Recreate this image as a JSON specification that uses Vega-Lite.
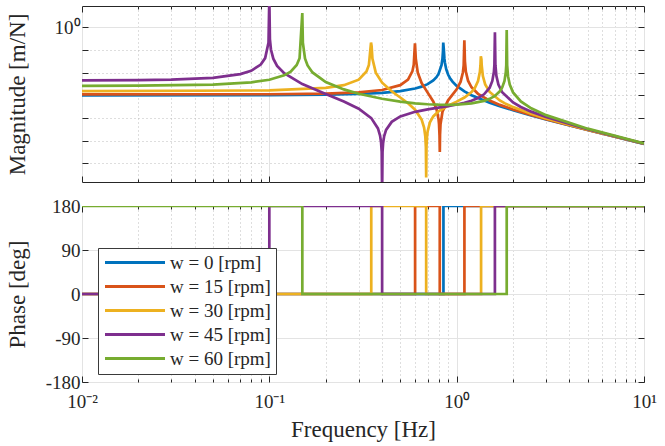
{
  "$schema": "https://vega.github.io/schema/vega-lite/v6.json",
  "padding": {"left": 5, "top": 5, "right": 5, "bottom": 5},
  "background": "white",
  "spacing": 24,
  "bounds": "flush",
  "config": {
    "font": "Liberation Serif, serif",
    "view": {"stroke": "#262626", "strokeWidth": 1},
    "axis": {
      "labelFont": "Liberation Serif, serif", "titleFont": "Liberation Serif, serif",
      "labelFontSize": 19, "titleFontSize": 23, "titleFontWeight": "normal",
      "labelColor": "#262626", "titleColor": "#262626",
      "domainColor": "#262626", "tickColor": "#262626", "gridColor": "#e3e3e3",
      "labelOverlap": false, "labelFlush": false
    },
    "style": {
      "guide-label": {"font": "Liberation Serif, serif"},
      "guide-title": {"font": "Liberation Serif, serif"}
    }
  },
  "resolve": {"legend": {"color": "independent"}},
  "datasets": {
    "mag": [
      {"w": "w = 0 [rpm]", "f": 0.01, "m": 1.002e-3},
      {"w": "w = 0 [rpm]", "f": 0.1, "m": 1.016e-3},
      {"w": "w = 0 [rpm]", "f": 0.2, "m": 1.060e-3},
      {"w": "w = 0 [rpm]", "f": 0.3, "m": 1.144e-3},
      {"w": "w = 0 [rpm]", "f": 0.4, "m": 1.287e-3},
      {"w": "w = 0 [rpm]", "f": 0.5, "m": 1.532e-3},
      {"w": "w = 0 [rpm]", "f": 0.6, "m": 1.996e-3},
      {"w": "w = 0 [rpm]", "f": 0.65, "m": 2.412e-3},
      {"w": "w = 0 [rpm]", "f": 0.7, "m": 3.113e-3},
      {"w": "w = 0 [rpm]", "f": 0.75, "m": 4.523e-3},
      {"w": "w = 0 [rpm]", "f": 0.78, "m": 6.343e-3},
      {"w": "w = 0 [rpm]", "f": 0.8, "m": 8.772e-3},
      {"w": "w = 0 [rpm]", "f": 0.83, "m": 2.154e-2},
      {"w": "w = 0 [rpm]", "f": 0.84, "m": 4.282e-2},
      {"w": "w = 0 [rpm]", "f": 0.845, "m": 8.539e-2},
      {"w": "w = 0 [rpm]", "f": 0.848, "m": 0.2131},
      {"w": "w = 0 [rpm]", "f": 0.854, "m": 0.1062},
      {"w": "w = 0 [rpm]", "f": 0.86, "m": 4.232e-2},
      {"w": "w = 0 [rpm]", "f": 0.865, "m": 2.813e-2},
      {"w": "w = 0 [rpm]", "f": 0.88, "m": 1.394e-2},
      {"w": "w = 0 [rpm]", "f": 0.9, "m": 8.271e-3},
      {"w": "w = 0 [rpm]", "f": 0.92, "m": 5.841e-3},
      {"w": "w = 0 [rpm]", "f": 0.95, "m": 4.021e-3},
      {"w": "w = 0 [rpm]", "f": 1.0, "m": 2.608e-3},
      {"w": "w = 0 [rpm]", "f": 1.1, "m": 1.485e-3},
      {"w": "w = 0 [rpm]", "f": 1.2, "m": 1.009e-3},
      {"w": "w = 0 [rpm]", "f": 1.5, "m": 4.738e-4},
      {"w": "w = 0 [rpm]", "f": 1.7, "m": 3.339e-4},
      {"w": "w = 0 [rpm]", "f": 2.0, "m": 2.208e-4},
      {"w": "w = 0 [rpm]", "f": 2.5, "m": 1.309e-4},
      {"w": "w = 0 [rpm]", "f": 3.0, "m": 8.743e-5},
      {"w": "w = 0 [rpm]", "f": 5.0, "m": 2.981e-5},
      {"w": "w = 0 [rpm]", "f": 10.0, "m": 7.290e-6},

      {"w": "w = 15 [rpm]", "f": 0.01, "m": 1.097e-3},
      {"w": "w = 15 [rpm]", "f": 0.1, "m": 1.120e-3},
      {"w": "w = 15 [rpm]", "f": 0.2, "m": 1.199e-3},
      {"w": "w = 15 [rpm]", "f": 0.3, "m": 1.364e-3},
      {"w": "w = 15 [rpm]", "f": 0.4, "m": 1.723e-3},
      {"w": "w = 15 [rpm]", "f": 0.5, "m": 2.810e-3},
      {"w": "w = 15 [rpm]", "f": 0.55, "m": 4.958e-3},
      {"w": "w = 15 [rpm]", "f": 0.58, "m": 1.136e-2},
      {"w": "w = 15 [rpm]", "f": 0.59, "m": 2.201e-2},
      {"w": "w = 15 [rpm]", "f": 0.5989, "m": 0.1942},
      {"w": "w = 15 [rpm]", "f": 0.603, "m": 7.022e-2},
      {"w": "w = 15 [rpm]", "f": 0.605, "m": 4.184e-2},
      {"w": "w = 15 [rpm]", "f": 0.62, "m": 9.901e-3},
      {"w": "w = 15 [rpm]", "f": 0.65, "m": 3.492e-3},
      {"w": "w = 15 [rpm]", "f": 0.7, "m": 1.314e-3},
      {"w": "w = 15 [rpm]", "f": 0.75, "m": 5.381e-4},
      {"w": "w = 15 [rpm]", "f": 0.78, "m": 2.499e-4},
      {"w": "w = 15 [rpm]", "f": 0.8, "m": 9.069e-5},
      {"w": "w = 15 [rpm]", "f": 0.805, "m": 5.354e-5},
      {"w": "w = 15 [rpm]", "f": 0.81, "m": 1.721e-5},
      {"w": "w = 15 [rpm]", "f": 0.81285, "m": 3.18e-6},
      {"w": "w = 15 [rpm]", "f": 0.815, "m": 1.842e-5},
      {"w": "w = 15 [rpm]", "f": 0.82, "m": 5.343e-5},
      {"w": "w = 15 [rpm]", "f": 0.84, "m": 1.893e-4},
      {"w": "w = 15 [rpm]", "f": 0.9, "m": 6.031e-4},
      {"w": "w = 15 [rpm]", "f": 1.0, "m": 1.831e-3},
      {"w": "w = 15 [rpm]", "f": 1.05, "m": 4.012e-3},
      {"w": "w = 15 [rpm]", "f": 1.08, "m": 1.042e-2},
      {"w": "w = 15 [rpm]", "f": 1.09, "m": 2.107e-2},
      {"w": "w = 15 [rpm]", "f": 1.0992, "m": 0.2659},
      {"w": "w = 15 [rpm]", "f": 1.1068, "m": 3.150e-2},
      {"w": "w = 15 [rpm]", "f": 1.12, "m": 1.083e-2},
      {"w": "w = 15 [rpm]", "f": 1.15, "m": 4.428e-3},
      {"w": "w = 15 [rpm]", "f": 1.2, "m": 2.273e-3},
      {"w": "w = 15 [rpm]", "f": 1.3, "m": 1.168e-3},
      {"w": "w = 15 [rpm]", "f": 1.5, "m": 5.854e-4},
      {"w": "w = 15 [rpm]", "f": 1.7, "m": 3.797e-4},
      {"w": "w = 15 [rpm]", "f": 2.0, "m": 2.380e-4},
      {"w": "w = 15 [rpm]", "f": 2.5, "m": 1.363e-4},
      {"w": "w = 15 [rpm]", "f": 3.0, "m": 8.967e-5},
      {"w": "w = 15 [rpm]", "f": 5.0, "m": 3.005e-5},
      {"w": "w = 15 [rpm]", "f": 10.0, "m": 7.304e-6},

      {"w": "w = 30 [rpm]", "f": 0.01, "m": 1.533e-3},
      {"w": "w = 30 [rpm]", "f": 0.1, "m": 1.642e-3},
      {"w": "w = 30 [rpm]", "f": 0.2, "m": 2.128e-3},
      {"w": "w = 30 [rpm]", "f": 0.25, "m": 2.810e-3},
      {"w": "w = 30 [rpm]", "f": 0.3, "m": 4.916e-3},
      {"w": "w = 30 [rpm]", "f": 0.33, "m": 1.129e-2},
      {"w": "w = 30 [rpm]", "f": 0.34, "m": 2.193e-2},
      {"w": "w = 30 [rpm]", "f": 0.349, "m": 0.2135},
      {"w": "w = 30 [rpm]", "f": 0.3514, "m": 0.1514},
      {"w": "w = 30 [rpm]", "f": 0.355, "m": 4.193e-2},
      {"w": "w = 30 [rpm]", "f": 0.37, "m": 1.001e-2},
      {"w": "w = 30 [rpm]", "f": 0.4, "m": 3.628e-3},
      {"w": "w = 30 [rpm]", "f": 0.45, "m": 1.508e-3},
      {"w": "w = 30 [rpm]", "f": 0.5, "m": 8.032e-4},
      {"w": "w = 30 [rpm]", "f": 0.55, "m": 4.497e-4},
      {"w": "w = 30 [rpm]", "f": 0.6, "m": 2.344e-4},
      {"w": "w = 30 [rpm]", "f": 0.65, "m": 8.616e-5},
      {"w": "w = 30 [rpm]", "f": 0.67, "m": 3.809e-5},
      {"w": "w = 30 [rpm]", "f": 0.68, "m": 1.581e-5},
      {"w": "w = 30 [rpm]", "f": 0.685, "m": 5.051e-6},
      {"w": "w = 30 [rpm]", "f": 0.6875, "m": 2.393e-7},
      {"w": "w = 30 [rpm]", "f": 0.69, "m": 5.472e-6},
      {"w": "w = 30 [rpm]", "f": 0.695, "m": 1.577e-5},
      {"w": "w = 30 [rpm]", "f": 0.7, "m": 2.586e-5},
      {"w": "w = 30 [rpm]", "f": 0.72, "m": 6.434e-5},
      {"w": "w = 30 [rpm]", "f": 0.75, "m": 1.175e-4},
      {"w": "w = 30 [rpm]", "f": 0.8, "m": 1.981e-4},
      {"w": "w = 30 [rpm]", "f": 0.9, "m": 3.509e-4},
      {"w": "w = 30 [rpm]", "f": 1.0, "m": 5.289e-4},
      {"w": "w = 30 [rpm]", "f": 1.1, "m": 8.013e-4},
      {"w": "w = 30 [rpm]", "f": 1.2, "m": 1.389e-3},
      {"w": "w = 30 [rpm]", "f": 1.25, "m": 2.107e-3},
      {"w": "w = 30 [rpm]", "f": 1.3, "m": 4.242e-3},
      {"w": "w = 30 [rpm]", "f": 1.33, "m": 1.063e-2},
      {"w": "w = 30 [rpm]", "f": 1.34, "m": 2.128e-2},
      {"w": "w = 30 [rpm]", "f": 1.346, "m": 5.321e-2},
      {"w": "w = 30 [rpm]", "f": 1.3554, "m": 3.957e-2},
      {"w": "w = 30 [rpm]", "f": 1.36, "m": 2.129e-2},
      {"w": "w = 30 [rpm]", "f": 1.38, "m": 7.101e-3},
      {"w": "w = 30 [rpm]", "f": 1.42, "m": 3.043e-3},
      {"w": "w = 30 [rpm]", "f": 1.5, "m": 1.414e-3},
      {"w": "w = 30 [rpm]", "f": 1.7, "m": 5.922e-4},
      {"w": "w = 30 [rpm]", "f": 1.8, "m": 4.532e-4},
      {"w": "w = 30 [rpm]", "f": 2.0, "m": 3.024e-4},
      {"w": "w = 30 [rpm]", "f": 2.5, "m": 1.541e-4},
      {"w": "w = 30 [rpm]", "f": 3.0, "m": 9.686e-5},
      {"w": "w = 30 [rpm]", "f": 5.0, "m": 3.078e-5},
      {"w": "w = 30 [rpm]", "f": 10.0, "m": 7.345e-6},

      {"w": "w = 45 [rpm]", "f": 0.01, "m": 4.566e-3},
      {"w": "w = 45 [rpm]", "f": 0.02, "m": 4.701e-3},
      {"w": "w = 45 [rpm]", "f": 0.03, "m": 4.944e-3},
      {"w": "w = 45 [rpm]", "f": 0.05, "m": 5.942e-3},
      {"w": "w = 45 [rpm]", "f": 0.07, "m": 8.614e-3},
      {"w": "w = 45 [rpm]", "f": 0.08, "m": 1.209e-2},
      {"w": "w = 45 [rpm]", "f": 0.09, "m": 2.267e-2},
      {"w": "w = 45 [rpm]", "f": 0.095, "m": 4.393e-2},
      {"w": "w = 45 [rpm]", "f": 0.099, "m": 0.2142},
      {"w": "w = 45 [rpm]", "f": 0.09999, "m": 21.29},
      {"w": "w = 45 [rpm]", "f": 0.1007, "m": 0.3027},
      {"w": "w = 45 [rpm]", "f": 0.102, "m": 0.1051},
      {"w": "w = 45 [rpm]", "f": 0.105, "m": 4.127e-2},
      {"w": "w = 45 [rpm]", "f": 0.11, "m": 2.000e-2},
      {"w": "w = 45 [rpm]", "f": 0.12, "m": 9.407e-3},
      {"w": "w = 45 [rpm]", "f": 0.15, "m": 3.137e-3},
      {"w": "w = 45 [rpm]", "f": 0.2, "m": 1.149e-3},
      {"w": "w = 45 [rpm]", "f": 0.25, "m": 5.381e-4},
      {"w": "w = 45 [rpm]", "f": 0.3, "m": 2.564e-4},
      {"w": "w = 45 [rpm]", "f": 0.35, "m": 9.897e-5},
      {"w": "w = 45 [rpm]", "f": 0.38, "m": 3.477e-5},
      {"w": "w = 45 [rpm]", "f": 0.39, "m": 1.671e-5},
      {"w": "w = 45 [rpm]", "f": 0.395, "m": 8.195e-6},
      {"w": "w = 45 [rpm]", "f": 0.398, "m": 3.217e-6},
      {"w": "w = 45 [rpm]", "f": 0.39998, "m": 3.22e-8},
      {"w": "w = 45 [rpm]", "f": 0.402, "m": 3.218e-6},
      {"w": "w = 45 [rpm]", "f": 0.405, "m": 7.893e-6},
      {"w": "w = 45 [rpm]", "f": 0.41, "m": 1.550e-5},
      {"w": "w = 45 [rpm]", "f": 0.42, "m": 2.992e-5},
      {"w": "w = 45 [rpm]", "f": 0.45, "m": 6.777e-5},
      {"w": "w = 45 [rpm]", "f": 0.5, "m": 1.175e-4},
      {"w": "w = 45 [rpm]", "f": 0.6, "m": 1.880e-4},
      {"w": "w = 45 [rpm]", "f": 0.7, "m": 2.404e-4},
      {"w": "w = 45 [rpm]", "f": 0.8, "m": 2.872e-4},
      {"w": "w = 45 [rpm]", "f": 0.9, "m": 3.360e-4},
      {"w": "w = 45 [rpm]", "f": 1.0, "m": 3.936e-4},
      {"w": "w = 45 [rpm]", "f": 1.1, "m": 4.691e-4},
      {"w": "w = 45 [rpm]", "f": 1.2, "m": 5.784e-4},
      {"w": "w = 45 [rpm]", "f": 1.3, "m": 7.576e-4},
      {"w": "w = 45 [rpm]", "f": 1.4, "m": 1.113e-3},
      {"w": "w = 45 [rpm]", "f": 1.5, "m": 2.178e-3},
      {"w": "w = 45 [rpm]", "f": 1.55, "m": 4.307e-3},
      {"w": "w = 45 [rpm]", "f": 1.58, "m": 1.069e-2},
      {"w": "w = 45 [rpm]", "f": 1.59, "m": 2.134e-2},
      {"w": "w = 45 [rpm]", "f": 1.60035, "m": 0.6081},
      {"w": "w = 45 [rpm]", "f": 1.61, "m": 2.124e-2},
      {"w": "w = 45 [rpm]", "f": 1.63, "m": 7.045e-3},
      {"w": "w = 45 [rpm]", "f": 1.67, "m": 2.991e-3},
      {"w": "w = 45 [rpm]", "f": 1.75, "m": 1.369e-3},
      {"w": "w = 45 [rpm]", "f": 2.0, "m": 4.837e-4},
      {"w": "w = 45 [rpm]", "f": 2.2, "m": 3.076e-4},
      {"w": "w = 45 [rpm]", "f": 2.5, "m": 1.914e-4},
      {"w": "w = 45 [rpm]", "f": 3.0, "m": 1.105e-4},
      {"w": "w = 45 [rpm]", "f": 5.0, "m": 3.206e-5},
      {"w": "w = 45 [rpm]", "f": 10.0, "m": 7.416e-6},

      {"w": "w = 60 [rpm]", "f": 0.01, "m": 2.621e-3},
      {"w": "w = 60 [rpm]", "f": 0.02, "m": 2.659e-3},
      {"w": "w = 60 [rpm]", "f": 0.05, "m": 2.963e-3},
      {"w": "w = 60 [rpm]", "f": 0.08, "m": 3.736e-3},
      {"w": "w = 60 [rpm]", "f": 0.1, "m": 4.878e-3},
      {"w": "w = 60 [rpm]", "f": 0.12, "m": 7.652e-3},
      {"w": "w = 60 [rpm]", "f": 0.13, "m": 1.117e-2},
      {"w": "w = 60 [rpm]", "f": 0.14, "m": 2.179e-2},
      {"w": "w = 60 [rpm]", "f": 0.145, "m": 4.306e-2},
      {"w": "w = 60 [rpm]", "f": 0.14995, "m": 4.258},
      {"w": "w = 60 [rpm]", "f": 0.151, "m": 0.2124},
      {"w": "w = 60 [rpm]", "f": 0.155, "m": 4.210e-2},
      {"w": "w = 60 [rpm]", "f": 0.16, "m": 2.083e-2},
      {"w": "w = 60 [rpm]", "f": 0.17, "m": 1.021e-2},
      {"w": "w = 60 [rpm]", "f": 0.2, "m": 3.882e-3},
      {"w": "w = 60 [rpm]", "f": 0.25, "m": 1.831e-3},
      {"w": "w = 60 [rpm]", "f": 0.3, "m": 1.182e-3},
      {"w": "w = 60 [rpm]", "f": 0.4, "m": 7.058e-4},
      {"w": "w = 60 [rpm]", "f": 0.5, "m": 5.289e-4},
      {"w": "w = 60 [rpm]", "f": 0.6, "m": 4.464e-4},
      {"w": "w = 60 [rpm]", "f": 0.7, "m": 4.051e-4},
      {"w": "w = 60 [rpm]", "f": 0.8, "m": 3.865e-4},
      {"w": "w = 60 [rpm]", "f": 0.9, "m": 3.826e-4},
      {"w": "w = 60 [rpm]", "f": 1.0, "m": 3.904e-4},
      {"w": "w = 60 [rpm]", "f": 1.2, "m": 4.423e-4},
      {"w": "w = 60 [rpm]", "f": 1.4, "m": 5.715e-4},
      {"w": "w = 60 [rpm]", "f": 1.5, "m": 7.004e-4},
      {"w": "w = 60 [rpm]", "f": 1.6, "m": 9.383e-4},
      {"w": "w = 60 [rpm]", "f": 1.7, "m": 1.501e-3},
      {"w": "w = 60 [rpm]", "f": 1.75, "m": 2.209e-3},
      {"w": "w = 60 [rpm]", "f": 1.8, "m": 4.335e-3},
      {"w": "w = 60 [rpm]", "f": 1.83, "m": 1.072e-2},
      {"w": "w = 60 [rpm]", "f": 1.84, "m": 2.136e-2},
      {"w": "w = 60 [rpm]", "f": 1.84972, "m": 0.760},
      {"w": "w = 60 [rpm]", "f": 1.86, "m": 2.121e-2},
      {"w": "w = 60 [rpm]", "f": 1.88, "m": 7.020e-3},
      {"w": "w = 60 [rpm]", "f": 1.92, "m": 2.967e-3},
      {"w": "w = 60 [rpm]", "f": 2.0, "m": 1.348e-3},
      {"w": "w = 60 [rpm]", "f": 2.2, "m": 5.423e-4},
      {"w": "w = 60 [rpm]", "f": 2.5, "m": 2.683e-4},
      {"w": "w = 60 [rpm]", "f": 3.0, "m": 1.341e-4},
      {"w": "w = 60 [rpm]", "f": 5.0, "m": 3.394e-5},
      {"w": "w = 60 [rpm]", "f": 10.0, "m": 7.516e-6}
    ],
    "phase": [
      {"w": "w = 0 [rpm]", "i": 0, "f": 0.01, "p": 0},
      {"w": "w = 0 [rpm]", "i": 1, "f": 0.85, "p": 0},
      {"w": "w = 0 [rpm]", "i": 2, "f": 0.85, "p": 180},
      {"w": "w = 0 [rpm]", "i": 3, "f": 10, "p": 180},
      {"w": "w = 15 [rpm]", "i": 0, "f": 0.01, "p": 0},
      {"w": "w = 15 [rpm]", "i": 1, "f": 0.6, "p": 0},
      {"w": "w = 15 [rpm]", "i": 2, "f": 0.6, "p": 180},
      {"w": "w = 15 [rpm]", "i": 3, "f": 0.8124, "p": 180},
      {"w": "w = 15 [rpm]", "i": 4, "f": 0.8124, "p": 0},
      {"w": "w = 15 [rpm]", "i": 5, "f": 1.1, "p": 0},
      {"w": "w = 15 [rpm]", "i": 6, "f": 1.1, "p": 180},
      {"w": "w = 15 [rpm]", "i": 7, "f": 10, "p": 180},
      {"w": "w = 30 [rpm]", "i": 0, "f": 0.01, "p": 0},
      {"w": "w = 30 [rpm]", "i": 1, "f": 0.35, "p": 0},
      {"w": "w = 30 [rpm]", "i": 2, "f": 0.35, "p": 180},
      {"w": "w = 30 [rpm]", "i": 3, "f": 0.6874, "p": 180},
      {"w": "w = 30 [rpm]", "i": 4, "f": 0.6874, "p": 0},
      {"w": "w = 30 [rpm]", "i": 5, "f": 1.35, "p": 0},
      {"w": "w = 30 [rpm]", "i": 6, "f": 1.35, "p": 180},
      {"w": "w = 30 [rpm]", "i": 7, "f": 10, "p": 180},
      {"w": "w = 45 [rpm]", "i": 0, "f": 0.01, "p": 0},
      {"w": "w = 45 [rpm]", "i": 1, "f": 0.1, "p": 0},
      {"w": "w = 45 [rpm]", "i": 2, "f": 0.1, "p": 180},
      {"w": "w = 45 [rpm]", "i": 3, "f": 0.4, "p": 180},
      {"w": "w = 45 [rpm]", "i": 4, "f": 0.4, "p": 0},
      {"w": "w = 45 [rpm]", "i": 5, "f": 1.6, "p": 0},
      {"w": "w = 45 [rpm]", "i": 6, "f": 1.6, "p": 180},
      {"w": "w = 45 [rpm]", "i": 7, "f": 10, "p": 180},
      {"w": "w = 60 [rpm]", "i": 0, "f": 0.01, "p": 180},
      {"w": "w = 60 [rpm]", "i": 1, "f": 0.15, "p": 180},
      {"w": "w = 60 [rpm]", "i": 2, "f": 0.15, "p": 0},
      {"w": "w = 60 [rpm]", "i": 3, "f": 1.85, "p": 0},
      {"w": "w = 60 [rpm]", "i": 4, "f": 1.85, "p": 180},
      {"w": "w = 60 [rpm]", "i": 5, "f": 10, "p": 180}
    ]
  },
  "vconcat": [
    {
      "width": 562,
      "height": 176,
      "data": {"name": "mag"},
      "layer": [
        {
          "mark": {"type": "line", "strokeWidth": 2.7, "clip": true},
          "encoding": {
            "x": {
              "field": "f", "type": "quantitative",
              "scale": {"type": "log", "domain": [0.01, 10], "nice": false},
              "axis": {
                "values": [0.01, 0.02, 0.03, 0.04, 0.05, 0.06, 0.07, 0.08, 0.09, 0.1, 0.2, 0.3, 0.4, 0.5, 0.6, 0.7, 0.8, 0.9, 1, 2, 3, 4, 5, 6, 7, 8, 9, 10],
                "labels": false, "title": null, "domain": false,
                "tickSize": {"condition": {"test": "indexof([0.01,0.1,1,10], datum.value) >= 0", "value": -6}, "value": -3},
                "gridDash": {"condition": {"test": "indexof([0.01,0.1,1,10], datum.value) >= 0", "value": []}, "value": [1, 3]},
                "gridColor": {"condition": {"test": "indexof([0.01,0.1,1,10], datum.value) >= 0", "value": "#e3e3e3"}, "value": "#bdbdbd"}
              }
            },
            "y": {
              "field": "m", "type": "quantitative",
              "scale": {"type": "log", "domain": [1.51e-7, 8.7], "nice": false},
              "axis": {
                "values": [1e-6, 1e-5, 1e-4, 1e-3, 1e-2, 1e-1, 1],
                "labelExpr": "datum.value > 0.5 ? '10⁰' : ''",
                "labelFont": "Liberation Serif, serif", "titleFont": "Liberation Serif, serif",
                "labelFontSize": 19, "titleFontSize": 23,
                "title": "Magnitude [m/N]", "titleX": -53, "domain": false,
                "tickSize": -6, "labelPadding": 8,
                "gridDash": {"condition": {"test": "datum.value > 0.5", "value": []}, "value": [1, 3]},
                "gridColor": {"condition": {"test": "datum.value > 0.5", "value": "#e3e3e3"}, "value": "#bdbdbd"}
              }
            },
            "color": {
              "field": "w", "type": "nominal",
              "scale": {"domain": ["w = 0 [rpm]", "w = 15 [rpm]", "w = 30 [rpm]", "w = 45 [rpm]", "w = 60 [rpm]"],
                        "range": ["#0072BD", "#D95319", "#EDB120", "#7E2F8E", "#77AC30"]},
              "legend": null
            }
          }
        },
        {
          "mark": {"type": "line", "strokeOpacity": 0, "clip": true},
          "encoding": {
            "x": {
              "field": "f", "type": "quantitative",
              "axis": {
                "orient": "top",
                "values": [0.01, 0.02, 0.03, 0.04, 0.05, 0.06, 0.07, 0.08, 0.09, 0.1, 0.2, 0.3, 0.4, 0.5, 0.6, 0.7, 0.8, 0.9, 1, 2, 3, 4, 5, 6, 7, 8, 9, 10],
                "labels": false, "title": null, "domain": false, "grid": false,
                "tickSize": {"condition": {"test": "indexof([0.01,0.1,1,10], datum.value) >= 0", "value": -6}, "value": -3}
              }
            },
            "y": {
              "field": "m", "type": "quantitative",
              "axis": {
                "orient": "right",
                "values": [1e-6, 1e-5, 1e-4, 1e-3, 1e-2, 1e-1, 1],
                "labels": false, "title": null, "domain": false, "grid": false, "tickSize": -6
              }
            }
          }
        }
      ],
      "resolve": {"axis": {"x": "independent", "y": "independent"}}
    },
    {
      "width": 562,
      "height": 176,
      "data": {"name": "phase"},
      "layer": [
        {
          "mark": {"type": "line", "strokeWidth": 2.7, "clip": true},
          "encoding": {
            "x": {
              "field": "f", "type": "quantitative",
              "scale": {"type": "log", "domain": [0.01, 10], "nice": false},
              "axis": {
                "values": [0.01, 0.02, 0.03, 0.04, 0.05, 0.06, 0.07, 0.08, 0.09, 0.1, 0.2, 0.3, 0.4, 0.5, 0.6, 0.7, 0.8, 0.9, 1, 2, 3, 4, 5, 6, 7, 8, 9, 10],
                "labelExpr": "datum.value == 0.01 ? '10⁻²' : datum.value == 0.1 ? '10⁻¹' : datum.value == 1 ? '10⁰' : datum.value == 10 ? '10¹' : ''",
                "labelFont": "Liberation Serif, serif", "titleFont": "Liberation Serif, serif",
                "labelFontSize": 19, "titleFontSize": 23,
                "title": "Frequency [Hz]", "domain": false, "labelPadding": 16,
                "tickSize": {"condition": {"test": "indexof([0.01,0.1,1,10], datum.value) >= 0", "value": -6}, "value": -3},
                "gridDash": {"condition": {"test": "indexof([0.01,0.1,1,10], datum.value) >= 0", "value": []}, "value": [1, 3]},
                "gridColor": {"condition": {"test": "indexof([0.01,0.1,1,10], datum.value) >= 0", "value": "#e3e3e3"}, "value": "#bdbdbd"}
              }
            },
            "y": {
              "field": "p", "type": "quantitative",
              "scale": {"domain": [-180, 180], "nice": false, "zero": false},
              "axis": {
                "values": [-180, -90, 0, 90, 180],
                "labelExpr": "datum.value < 0 ? '-' + abs(datum.value) : '' + datum.value",
                "labelFont": "Liberation Serif, serif", "titleFont": "Liberation Serif, serif",
                "labelFontSize": 19, "titleFontSize": 23,
                "title": "Phase [deg]", "titleX": -53, "domain": false,
                "tickSize": -6, "labelPadding": 8
              }
            },
            "order": {"field": "i", "type": "quantitative"},
            "color": {
              "field": "w", "type": "nominal",
              "scale": {"domain": ["w = 0 [rpm]", "w = 15 [rpm]", "w = 30 [rpm]", "w = 45 [rpm]", "w = 60 [rpm]"],
                        "range": ["#0072BD", "#D95319", "#EDB120", "#7E2F8E", "#77AC30"]},
              "legend": {
                "orient": "none", "legendX": 16, "legendY": 42, "title": null,
                "symbolType": "M-1,0H7", "symbolSize": 225, "symbolStrokeWidth": 3,
                "labelFont": "Liberation Serif, serif", "labelFontSize": 19, "labelColor": "#262626",
                "strokeColor": "#3a3a3a", "fillColor": "white", "padding": 5,
                "rowPadding": 4, "labelOffset": 48
              }
            }
          }
        },
        {
          "mark": {"type": "line", "strokeOpacity": 0, "clip": true},
          "encoding": {
            "x": {
              "field": "f", "type": "quantitative",
              "axis": {
                "orient": "top",
                "values": [0.01, 0.02, 0.03, 0.04, 0.05, 0.06, 0.07, 0.08, 0.09, 0.1, 0.2, 0.3, 0.4, 0.5, 0.6, 0.7, 0.8, 0.9, 1, 2, 3, 4, 5, 6, 7, 8, 9, 10],
                "labels": false, "title": null, "domain": false, "grid": false,
                "tickSize": {"condition": {"test": "indexof([0.01,0.1,1,10], datum.value) >= 0", "value": -6}, "value": -3}
              }
            },
            "y": {
              "field": "p", "type": "quantitative",
              "axis": {
                "orient": "right",
                "values": [-180, -90, 0, 90, 180],
                "labels": false, "title": null, "domain": false, "grid": false, "tickSize": -6
              }
            }
          }
        }
      ],
      "resolve": {"axis": {"x": "independent", "y": "independent"}}
    }
  ]
}
